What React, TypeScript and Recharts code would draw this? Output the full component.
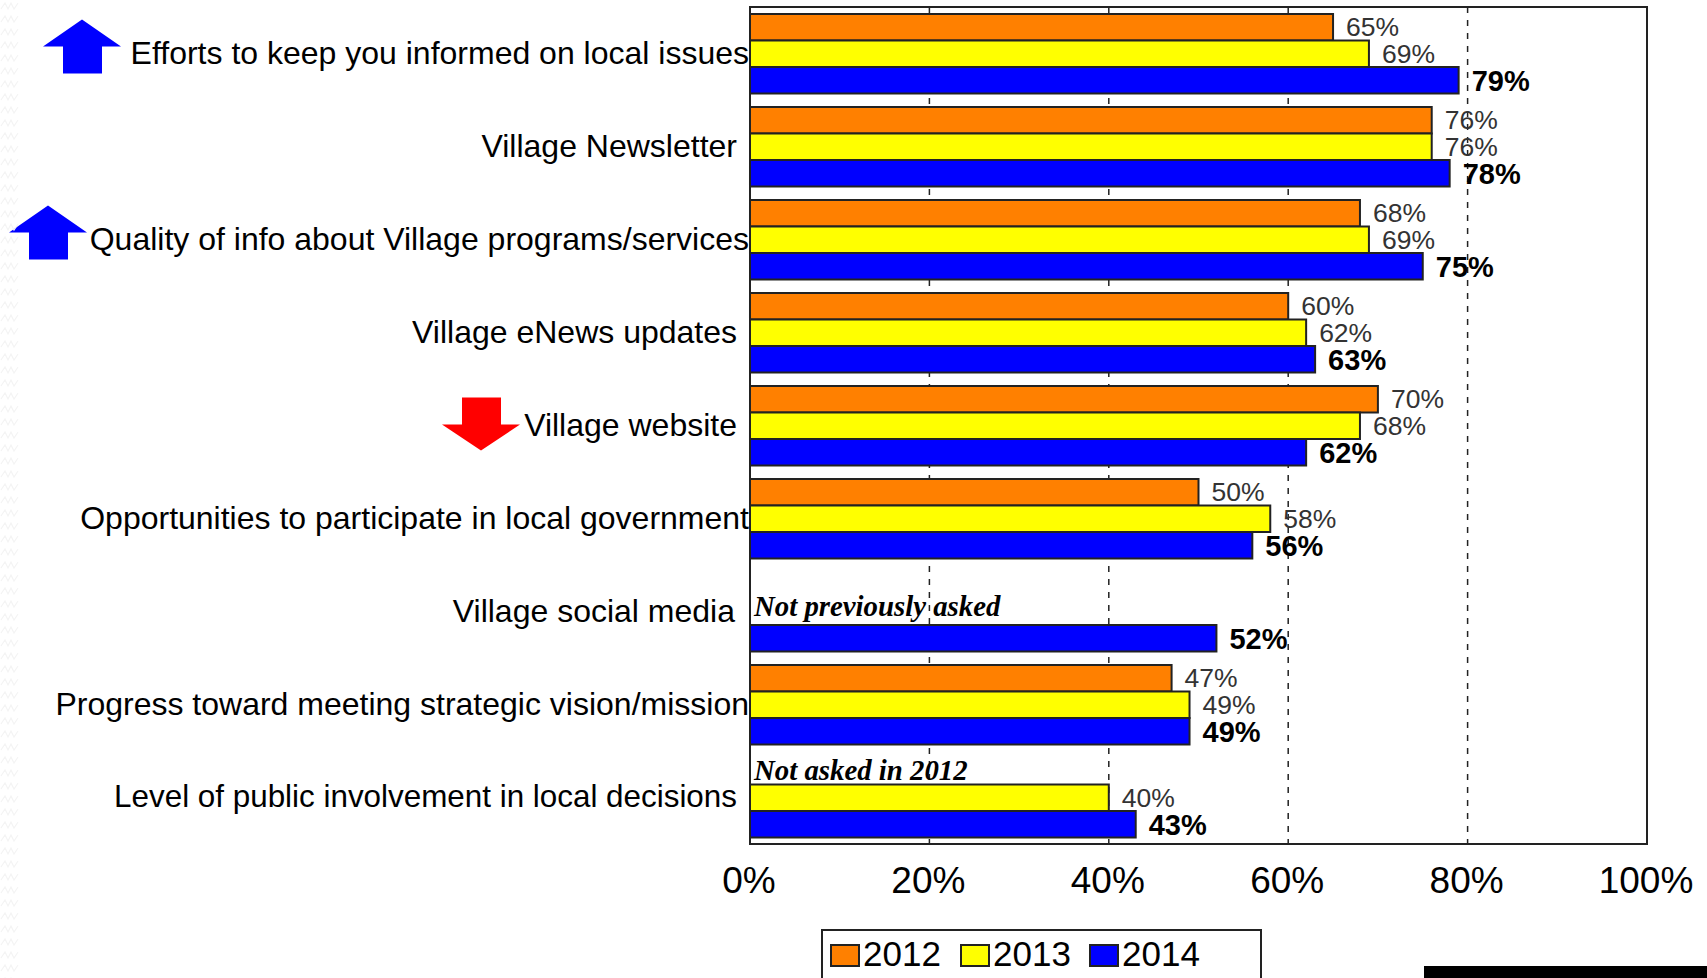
import React from "react";
import { BarChart, Bar, XAxis, YAxis, CartesianGrid, ReferenceArea, LabelList, Legend } from "recharts";

const categories = [
  "Efforts to keep you informed on local issues",
  "Village Newsletter",
  "Quality of info about Village programs/services",
  "Village eNews updates",
  "Village website",
  "Opportunities to participate in local government",
  "Village social media",
  "Progress toward meeting strategic vision/mission",
  "Level of public involvement in local decisions",
];
const values2012 = [65, 76, 68, 60, 70, 50, null, 47, null];
const values2013 = [69, 76, 69, 62, 68, 58, null, 49, 40];
const values2014 = [79, 78, 75, 63, 62, 56, 52, 49, 43];
const xTicks = [0, 20, 40, 60, 80, 100];
const seriesNames = ["2012", "2013", "2014"];
const seriesColors = ["#FF8000", "#FFFF00", "#0000FF"];
const flushLabels = [categories[0], categories[2], categories[5], categories[7]];
const upArrows = [categories[0], categories[2]];
const downArrows = [categories[4]];
const notes: Record<string, string> = {
  "Village social media": "Not previously asked",
  "Level of public involvement in local decisions": "Not asked in 2012",
};

const data = categories.map((name, i) => ({
  name,
  y2012: values2012[i],
  y2013: values2013[i],
  y2014: values2014[i],
}));

const FONT = "'Liberation Sans', Arial, sans-serif";
const PLOT_LEFT = 750;
const SQUIGGLE =
  "url(\"data:image/svg+xml;utf8,<svg xmlns='http://www.w3.org/2000/svg' width='20' height='13'><path d='M1 9 L5 3 L8 9 L11 3 L14 9 L18 3' fill='none' stroke='%23f4f4f4' stroke-width='1.2'/></svg>\")";

function CategoryTick({ y, payload }: any) {
  const label: string = payload.value;
  const isSocial = label === categories[6];
  const isLevel = label === categories[8];
  const end = flushLabels.includes(label) ? PLOT_LEFT - 1 : PLOT_LEFT - (isSocial ? 15 : 13);
  const arrowX = label === categories[0] ? 82 : label === categories[2] ? 48 : 481;
  return (
    <g>
      <text x={end} y={y - 1} textAnchor="end" dominantBaseline="central" fontFamily={FONT} fontSize={isLevel ? 31.4 : 32} fill="#000">
        {label}
      </text>
      {upArrows.includes(label) && (
        <polygon
          fill="#0000FF"
          points={`${arrowX},${y - 34} ${arrowX + 39},${y - 7} ${arrowX + 20},${y - 7} ${arrowX + 20},${y + 20} ${arrowX - 19},${y + 20} ${arrowX - 19},${y - 7} ${arrowX - 39},${y - 7}`}
        />
      )}
      {downArrows.includes(label) && (
        <polygon
          fill="#FF0000"
          points={`${arrowX},${y + 25} ${arrowX + 39},${y - 1} ${arrowX + 20},${y - 1} ${arrowX + 20},${y - 28} ${arrowX - 19},${y - 28} ${arrowX - 19},${y - 1} ${arrowX - 39},${y - 1}`}
        />
      )}
      {notes[label] && (
        <text
          x={PLOT_LEFT + 4}
          y={isSocial ? y - 6 : y - 28}
          dominantBaseline="central"
          fontFamily="'Liberation Serif', serif"
          fontStyle="italic"
          fontWeight="bold"
          fontSize={28.8}
          fill="#000"
        >
          {notes[label]}
        </text>
      )}
    </g>
  );
}

function PercentTick({ x, y, payload }: any) {
  return (
    <text x={x - 1} y={y} textAnchor="middle" dominantBaseline="central" fontFamily={FONT} fontSize={37} fill="#000">
      {payload.value}%
    </text>
  );
}

function valueLabel(bold: boolean) {
  return function ValueLabel({ x, y, width, height, value }: any) {
    if (value == null) return null;
    return (
      <text
        x={x + width + 13}
        y={y + height / 2 + (bold ? 1 : 0)}
        dominantBaseline="central"
        fontFamily={FONT}
        fontSize={bold ? 29 : 26.5}
        fontWeight={bold ? "bold" : "normal"}
        fill={bold ? "#000" : "#333"}
      >
        {value}%
      </text>
    );
  };
}

function LegendBox() {
  const swatchX = [830, 960, 1089];
  const box: React.CSSProperties = {
    position: "absolute",
    left: 821,
    top: 929,
    width: 441,
    height: 70,
    border: "2px solid #222",
    boxSizing: "border-box",
    background: "#fff",
  };
  return (
    <div style={{ position: "absolute", left: 0, top: 0 }}>
      <div style={box} />
      {seriesNames.map((name, i) => (
        <React.Fragment key={name}>
          <div
            style={{
              position: "absolute",
              left: swatchX[i],
              top: 944,
              width: 30,
              height: 23,
              background: seriesColors[i],
              border: "2px solid #222",
              boxSizing: "border-box",
            }}
          />
          <div
            style={{
              position: "absolute",
              left: swatchX[i] + 33,
              top: 934,
              fontFamily: FONT,
              fontSize: 35,
              lineHeight: "40px",
              color: "#000",
            }}
          >
            {name}
          </div>
        </React.Fragment>
      ))}
    </div>
  );
}

export default function App() {
  return (
    <div style={{ position: "absolute", left: 0, top: 0, width: 1707, height: 978, overflow: "hidden", background: "#fff" }}>
      <BarChart
        width={1707}
        height={978}
        data={data}
        layout="vertical"
        barSize={26.5}
        barGap={0}
        margin={{ top: 7, right: 60, bottom: 0, left: 0 }}
      >
        <CartesianGrid horizontal={false} stroke="#222" strokeWidth={1.5} strokeDasharray="6 7" />
        <XAxis
          type="number"
          domain={[0, 100]}
          ticks={xTicks}
          height={134}
          axisLine={false}
          tickLine={false}
          tick={<PercentTick />}
          tickMargin={30}
          interval={0}
        />
        <YAxis
          type="category"
          dataKey="name"
          width={PLOT_LEFT}
          axisLine={false}
          tickLine={false}
          tick={<CategoryTick />}
          interval={0}
        />
        <Bar dataKey="y2012" name={seriesNames[0]} fill={seriesColors[0]} stroke="#222" strokeWidth={2} isAnimationActive={false}>
          <LabelList dataKey="y2012" content={valueLabel(false)} />
        </Bar>
        <Bar dataKey="y2013" name={seriesNames[1]} fill={seriesColors[1]} stroke="#222" strokeWidth={2} isAnimationActive={false}>
          <LabelList dataKey="y2013" content={valueLabel(false)} />
        </Bar>
        <Bar dataKey="y2014" name={seriesNames[2]} fill={seriesColors[2]} stroke="#222" strokeWidth={2} isAnimationActive={false}>
          <LabelList dataKey="y2014" content={valueLabel(true)} />
        </Bar>
        <ReferenceArea x1={0} x2={100} fill="none" stroke="#222" strokeWidth={2} ifOverflow="visible" />
        <Legend content={<LegendBox />} wrapperStyle={{ position: "absolute", left: 0, top: 0, width: 0, height: 0 }} />
      </BarChart>
      <div style={{ position: "absolute", left: 1424, top: 966, width: 283, height: 12, background: "#000" }} />
      <div style={{ position: "absolute", left: 0, top: 0, width: 20, height: 978, backgroundImage: SQUIGGLE, backgroundRepeat: "repeat-y" }} />
    </div>
  );
}
